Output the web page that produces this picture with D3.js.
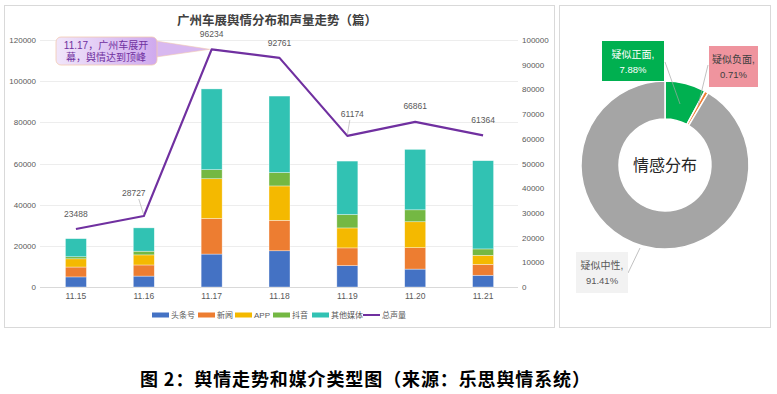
<!DOCTYPE html>
<html lang="zh">
<head>
<meta charset="UTF-8">
<title>广州车展舆情分布和声量走势</title>
<script src="https://d3js.org/d3.v7.min.js"></script>
<style>
  body { margin: 0; background: #ffffff; }
  svg { display: block; font-family: "Liberation Sans", "Noto Sans CJK SC", sans-serif; }
  .tick text { fill: #595959; }
</style>
</head>
<body>
<svg id="chart" width="777" height="394"></svg>
<script>
// ---- data ----
const dates = ["11.15", "11.16", "11.17", "11.18", "11.19", "11.20", "11.21"];
const toutiao = [4900, 5300, 16000, 17600, 10400, 8700, 5700];
const news = [4800, 5400, 17300, 14800, 8600, 10400, 5300];
const app = [4000, 4900, 19300, 16700, 9700, 12600, 4400];
const douyin = [1000, 1800, 4400, 6500, 6500, 5800, 3100];
const others = [8788, 11327, 39234, 37161, 25974, 29361, 42864];
const totalVolume = [23488, 28727, 96234, 92761, 61174, 66861, 61364];
const leftTicks = [0, 20000, 40000, 60000, 80000, 100000, 120000];
const rightTicks = [0, 10000, 20000, 30000, 40000, 50000, 60000, 70000, 80000, 90000, 100000];

const seriesNames = ["头条号", "新闻", "APP", "抖音", "其他媒体"];
const seriesColors = ["#4472C4", "#ED7D31", "#F4B900", "#74B843", "#31C2B3"];
const seriesValues = [toutiao, news, app, douyin, others];

const sentimentNames = ["疑似正面", "疑似负面", "疑似中性"];
const sentimentShares = [7.88, 0.71, 91.41];
const sentimentColors = ["#00B050", "#ED7D31", "#A5A5A5"];

const svg = d3.select("#chart");

// panel frames
svg.append("rect").attr("x", 4.5).attr("y", 5.5).attr("width", 550).attr("height", 322)
  .attr("fill", "#fff").attr("stroke", "#D9D9D9");
svg.append("rect").attr("x", 559.5).attr("y", 5.5).attr("width", 211).attr("height", 322)
  .attr("fill", "#fff").attr("stroke", "#D9D9D9");

// ---- combo chart ----
const x = d3.scaleBand().domain(dates).range([42, 517]);
const yL = d3.scaleLinear().domain([0, 120000]).range([287, 40]);
const yR = d3.scaleLinear().domain([0, 100000]).range([287, 40]);
const barW = 21;

// gridlines
svg.append("g").selectAll("line").data(leftTicks).join("line")
  .attr("x1", 40).attr("x2", 518)
  .attr("y1", d => Math.round(yL(d)) + 0.5).attr("y2", d => Math.round(yL(d)) + 0.5)
  .attr("stroke", d => d === 0 ? "#D9D9D9" : "#EDEDED").attr("stroke-width", 1);

// axes
const axL = svg.append("g").attr("transform", "translate(40,0)")
  .call(d3.axisLeft(yL).tickValues(leftTicks).tickSize(0).tickPadding(4).tickFormat(d3.format("d")));
axL.select(".domain").remove();
axL.selectAll("text").attr("font-size", 8);

const axR = svg.append("g").attr("transform", "translate(518,0)")
  .call(d3.axisRight(yR).tickValues(rightTicks).tickSize(0).tickPadding(4).tickFormat(d3.format("d")));
axR.select(".domain").remove();
axR.selectAll("text").attr("font-size", 8);

const axB = svg.append("g").attr("transform", "translate(0,287)")
  .call(d3.axisBottom(x).tickSize(0).tickPadding(6));
axB.select(".domain").remove();
axB.selectAll("text").attr("font-size", 8.5);

// stacked bars
const rows = dates.map((d, i) => {
  const r = { date: d };
  seriesNames.forEach((s, k) => r[s] = seriesValues[k][i]);
  return r;
});
const stack = d3.stack().keys(seriesNames)(rows);
svg.append("g").selectAll("g").data(stack).join("g")
  .attr("fill", (d, i) => seriesColors[i])
  .selectAll("rect").data(d => d).join("rect")
  .attr("x", d => x(d.data.date) + x.bandwidth() / 2 - barW / 2)
  .attr("y", d => yL(d[1]))
  .attr("width", barW)
  .attr("height", d => yL(d[0]) - yL(d[1]))
  .attr("stroke", "#ffffff").attr("stroke-opacity", 0.6).attr("stroke-width", 0.6);

// total volume line
const cx = d => x(d) + x.bandwidth() / 2;
svg.append("path")
  .datum(totalVolume)
  .attr("fill", "none").attr("stroke", "#7030A0").attr("stroke-width", 2.2)
  .attr("stroke-linejoin", "round")
  .attr("d", d3.line().x((d, i) => cx(dates[i])).y(d => yR(d)));

// data labels (dx, dy offsets from the point)
const labelOffsets = [[0, -12], [-10, -20], [0, -12], [0, -12], [5, -19], [0, -13], [0, -12]];
const lbl = svg.append("g").attr("font-size", 8.5).attr("fill", "#595959").attr("text-anchor", "middle");
totalVolume.forEach((v, i) => {
  const px = cx(dates[i]), py = yR(v);
  const [dx, dy] = labelOffsets[i];
  if (Math.abs(dx) > 2) {
    svg.append("line").attr("x1", px + dx * 0.5).attr("y1", py + dy + 3)
      .attr("x2", px).attr("y2", py - 1).attr("stroke", "#A6A6A6").attr("stroke-width", 0.6);
  }
  lbl.append("text").attr("x", px + dx).attr("y", py + dy).text(v);
});

// callout
const defs = svg.append("defs");
const grad = defs.append("linearGradient").attr("id", "callout").attr("x1", "0%").attr("x2", "100%");
grad.append("stop").attr("offset", "0%").attr("stop-color", "#F1E6FA");
grad.append("stop").attr("offset", "100%").attr("stop-color", "#CFA9EE");
const peak = [cx(dates[2]), yR(totalVolume[2])];
svg.append("path")
  .attr("d", `M156,41 L${peak[0] - 2},${peak[1]} L156,57 Z`)
  .attr("fill", "#D8B8F0").attr("stroke", "#F2C9B0").attr("stroke-width", 0.6);
svg.append("rect").attr("x", 56).attr("y", 37).attr("width", 101).attr("height", 28).attr("rx", 5)
  .attr("fill", "url(#callout)").attr("stroke", "#F2C9B0").attr("stroke-width", 0.8);
svg.append("text").attr("x", 106).attr("y", 49).attr("text-anchor", "middle")
  .attr("font-size", 10).attr("fill", "#7030A0").text("11.17，广州车展开");
svg.append("text").attr("x", 106).attr("y", 61).attr("text-anchor", "middle")
  .attr("font-size", 10).attr("fill", "#7030A0").text("幕，舆情达到顶峰");

// title
svg.append("text").attr("x", 277).attr("y", 25).attr("text-anchor", "middle")
  .attr("font-size", 12.5).attr("font-weight", "bold").attr("fill", "#404040")
  .text("广州车展舆情分布和声量走势（篇）");

// legend
const legendItems = seriesNames.map((n, i) => ({ name: n, color: seriesColors[i], line: false }))
  .concat([{ name: "总声量", color: "#7030A0", line: true }]);
const legendX = [152, 198, 235, 273, 312, 363];
const lg = svg.append("g").attr("font-size", 8).attr("fill", "#595959");
legendItems.forEach((d, i) => {
  if (d.line) {
    lg.append("line").attr("x1", legendX[i]).attr("x2", legendX[i] + 17).attr("y1", 315).attr("y2", 315)
      .attr("stroke", d.color).attr("stroke-width", 2);
  } else {
    lg.append("rect").attr("x", legendX[i]).attr("y", 312.5).attr("width", 17).attr("height", 5).attr("fill", d.color);
  }
  lg.append("text").attr("x", legendX[i] + 19).attr("y", 318).text(d.name);
});

// ---- donut ----
const pc = [665, 165];
const pie = d3.pie().sort(null).value(d => d)(sentimentShares);
const arc = d3.arc().innerRadius(46).outerRadius(84);
const pg = svg.append("g").attr("transform", `translate(${pc[0]},${pc[1]})`);
pg.selectAll("path").data(pie).join("path")
  .attr("d", arc).attr("fill", (d, i) => sentimentColors[i])
  .attr("stroke", "#fff").attr("stroke-width", 1.5);
pg.append("text").attr("text-anchor", "middle").attr("y", 6)
  .attr("font-size", 16).attr("fill", "#262626").text("情感分布");

// donut labels
const boxes = [
  { x: 602, y: 41, w: 62, h: 40, fill: "#00B050", text: "#ffffff", from: [665, 62], to: [680, 104] },
  { x: 709, y: 46, w: 49, h: 41, fill: "#EF949E", text: "#404040", from: [708, 65], to: [698, 106] },
  { x: 576, y: 252, w: 52, h: 41, fill: "#F2F2F2", text: "#595959", from: [628, 273], to: [640, 248] }
];
boxes.forEach((b, i) => {
  svg.append("polyline").attr("points", `${b.from[0]},${b.from[1]} ${b.to[0]},${b.to[1]}`)
    .attr("fill", "none").attr("stroke", "#A6A6A6").attr("stroke-width", 0.7);
  svg.append("rect").attr("x", b.x).attr("y", b.y).attr("width", b.w).attr("height", b.h).attr("fill", b.fill);
  svg.append("text").attr("x", b.x + b.w / 2).attr("y", b.y + 17).attr("text-anchor", "middle")
    .attr("font-size", 10).attr("fill", b.text).text(sentimentNames[i] + ",");
  svg.append("text").attr("x", b.x + b.w / 2).attr("y", b.y + 32).attr("text-anchor", "middle")
    .attr("font-size", 9.5).attr("fill", b.text).text(sentimentShares[i].toFixed(2) + "%");
});

// caption
svg.append("text").attr("x", 365).attr("y", 386).attr("text-anchor", "middle")
  .attr("font-size", 18).attr("font-weight", "bold").attr("fill", "#000")
  .attr("textLength", 450).attr("lengthAdjust", "spacing")
  .style("font-family", "'Noto Sans CJK SC', sans-serif")
  .text("图 2：舆情走势和媒介类型图（来源：乐思舆情系统）");
</script>
</body>
</html>
